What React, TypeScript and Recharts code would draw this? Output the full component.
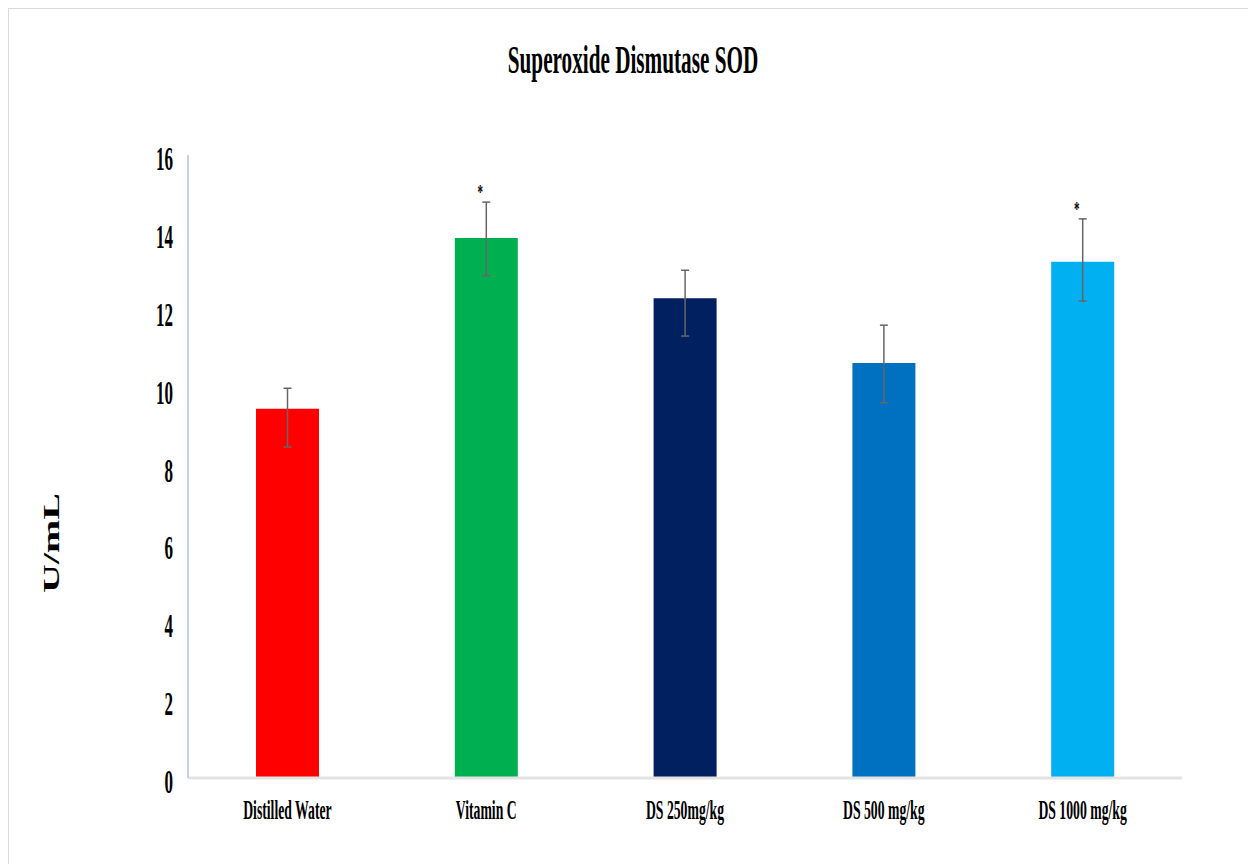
import * as React from "react"
import { BarChart, Bar, XAxis, YAxis, ErrorBar, Cell, LabelList } from "recharts"

// groups, means and asymmetric error (minus, plus) in U/mL
const groups = ["Distilled Water", "Vitamin C", "DS 250mg/kg", "DS 500 mg/kg", "DS 1000 mg/kg"]
const sodMeans = [9.48, 13.87, 12.32, 10.66, 13.26]
const sodErrors: [number, number][] = [
  [0.98, 0.53],
  [0.97, 0.92],
  [0.97, 0.72],
  [1.02, 0.97],
  [1.01, 1.1],
]
const significance = ["", "*", "", "", "*"]
const barColors = ["#ff0000", "#00b050", "#002060", "#0070c0", "#00b0f0"]
const yTicks = [0, 2, 4, 6, 8, 10, 12, 14, 16]

const data = groups.map((name, i) => ({
  name,
  sod: sodMeans[i],
  err: sodErrors[i],
  sig: significance[i],
}))

const FONT = '"Liberation Serif", "Times New Roman", serif'
const SQUEEZE = 0.5

const YTick = ({ y, payload }: any) => (
  <text
    transform={`translate(164,${y + 15}) scale(${SQUEEZE},1)`}
    textAnchor="end"
    fontFamily={FONT}
    fontWeight="bold"
    fontSize={34}
    fill="#000"
  >
    {payload.value}
  </text>
)

const XTick = ({ x, payload }: any) => (
  <text
    transform={`translate(${x},810) scale(0.49,1)`}
    textAnchor="middle"
    fontFamily={FONT}
    fontWeight="bold"
    fontSize={28}
    fill="#000"
  >
    {payload.value}
  </text>
)

// asterisk sits above the upper whisker
const StarLabel = (props: any) => {
  const { x, y, width, height, value, index } = props
  if (!value) return null
  const plus = sodErrors[index][1]
  const pxPerUnit = Math.abs(height) / sodMeans[index]
  const whiskerTop = y - plus * pxPerUnit
  return (
    <text
      transform={`translate(${x + width / 2 - 6},${whiskerTop - 3}) scale(${SQUEEZE},1)`}
      textAnchor="middle"
      fontFamily={FONT}
      fontWeight="bold"
      fontSize={22}
      fill="#000"
    >
      {value}
    </text>
  )
}

export default function App() {
  return (
    <div
      style={{
        position: "relative",
        width: 1246,
        height: 856,
        background: "#fff",
        borderTop: "1px solid #dadada",
        borderLeft: "1px solid #dadada",
        borderRight: "1px solid #dadada",
      }}
    >
      <BarChart
        width={1246}
        height={855}
        data={data}
        margin={{ top: 146, right: 73, bottom: 26, left: 109 }}
      >
        <XAxis
          dataKey="name"
          height={60}
          tick={<XTick />}
          tickLine={false}
          axisLine={{ stroke: "#e3e3e3", strokeWidth: 3 }}
          interval={0}
        />
        <YAxis
          width={70}
          domain={[0, 16]}
          ticks={yTicks}
          tick={<YTick />}
          tickLine={false}
          axisLine={{ stroke: "#a8c6e8", strokeWidth: 1.5 }}
          interval={0}
        />
        <Bar dataKey="sod" barSize={63} isAnimationActive={false}>
          {data.map((d, i) => (
            <Cell key={d.name} fill={barColors[i]} />
          ))}
          <ErrorBar dataKey="err" width={4} stroke="#666" strokeWidth={1.5} isAnimationActive={false} />
          <LabelList dataKey="sig" content={<StarLabel />} />
        </Bar>
      </BarChart>
      <svg
        width={1246}
        height={855}
        style={{ position: "absolute", left: 0, top: 0, pointerEvents: "none" }}
      >
        <text
          transform="translate(624,64) scale(0.53,1)"
          textAnchor="middle"
          fontFamily={FONT}
          fontWeight="bold"
          fontSize={40}
          fill="#000"
        >
          Superoxide Dismutase SOD
        </text>
        <text
          transform="translate(42,534) scale(0.6,1) rotate(-90)"
          textAnchor="middle"
          dominantBaseline="central"
          fontFamily={FONT}
          fontWeight="bold"
          fontSize={40}
          fill="#000"
        >
          U/mL
        </text>
      </svg>
    </div>
  )
}
